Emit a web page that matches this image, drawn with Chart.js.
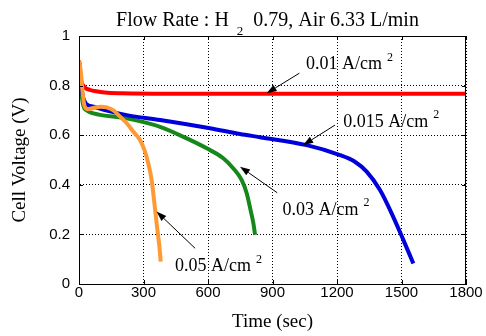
<!DOCTYPE html>
<html>
<head>
<meta charset="utf-8">
<script src="https://cdn.jsdelivr.net/npm/chart.js@4"></script>
<style>
  html, body { margin: 0; padding: 0; background: #fff; }
  #c { display: block; }
</style>
</head>
<body>
<canvas id="c" width="486" height="336"></canvas>
<script>
// --- datos ---
var xTicks = [0, 300, 600, 900, 1200, 1500, 1800];
var yTicks = [0, 0.2, 0.4, 0.6, 0.8, 1];

// 0.01 A/cm2
var tiempo001 = [0, 10, 20, 30, 50, 80, 120, 200, 400, 600, 900, 1200, 1500, 1800];
var volt001   = [0.90, 0.82, 0.80, 0.79, 0.783, 0.777, 0.772, 0.769, 0.767, 0.767, 0.767, 0.767, 0.767, 0.767];
// 0.015 A/cm2
var tiempo0015 = [0, 10, 20, 35, 67, 150, 222, 377, 609, 749, 842, 1059, 1214, 1280, 1338, 1400, 1462, 1509, 1555];
var volt0015   = [0.90, 0.80, 0.75, 0.725, 0.715, 0.695, 0.681, 0.661, 0.628, 0.605, 0.592, 0.56, 0.52, 0.495, 0.453, 0.379, 0.27, 0.177, 0.083];
// 0.03 A/cm2
var tiempo003 = [0, 10, 20, 35, 67, 222, 377, 516, 594, 671, 718, 757, 780, 798, 811, 819];
var volt003   = [0.90, 0.78, 0.72, 0.70, 0.688, 0.668, 0.634, 0.581, 0.547, 0.507, 0.466, 0.419, 0.366, 0.298, 0.245, 0.198];
// 0.05 A/cm2
var tiempo005 = [0, 8, 16, 25, 40, 67, 100, 129, 160, 191, 222, 253, 284, 307, 322, 338, 349, 361, 374, 380];
var volt005   = [0.90, 0.86, 0.78, 0.72, 0.705, 0.71, 0.715, 0.712, 0.70, 0.675, 0.648, 0.614, 0.581, 0.534, 0.487, 0.419, 0.339, 0.245, 0.150, 0.090];

var SERIF = '"Liberation Serif", "Times New Roman", serif';
var SANS = '"Liberation Sans", Arial, sans-serif';

function pares(ts, vs) {
  return ts.map(function (t, i) { return { x: t, y: vs[i] }; });
}

function serie(ts, vs, color) {
  return {
    data: pares(ts, vs),
    borderColor: color,
    borderWidth: 4,
    pointRadius: 0,
    fill: false,
    cubicInterpolationMode: 'monotone'
  };
}

/*
* Etiquetas con flecha (en unidades de los ejes)
*/
var etiquetas = [
  { texto: '0.01 A/cm', tx: 1056, ty: 0.885, desde: [1025, 0.850], hasta: [873, 0.769] },
  { texto: '0.015 A/cm', tx: 1229, ty: 0.654, desde: [1191, 0.641], hasta: [1043, 0.560] },
  { texto: '0.03 A/cm', tx: 947, ty: 0.298, desde: [922, 0.368], hasta: [749, 0.473] },
  { texto: '0.05 A/cm', tx: 447, ty: 0.070, desde: [540, 0.144], hasta: [361, 0.292] }
];

function flecha(ctx, x1, y1, x2, y2) {
  var ang = Math.atan2(y2 - y1, x2 - x1);
  var L = 10, W = 3.5;
  ctx.beginPath();
  ctx.moveTo(x1, y1);
  ctx.lineTo(x2 - L * Math.cos(ang), y2 - L * Math.sin(ang));
  ctx.stroke();
  ctx.beginPath();
  ctx.moveTo(x2, y2);
  ctx.lineTo(x2 - L * Math.cos(ang) + W * Math.sin(ang), y2 - L * Math.sin(ang) - W * Math.cos(ang));
  ctx.lineTo(x2 - L * Math.cos(ang) - W * Math.sin(ang), y2 - L * Math.sin(ang) + W * Math.cos(ang));
  ctx.closePath();
  ctx.fill();
}

var pluginAnotaciones = {
  id: 'anotaciones',
  afterDatasetsDraw: function (chart) {
    var ctx = chart.ctx, sx = chart.scales.x, sy = chart.scales.y;
    ctx.save();
    ctx.strokeStyle = '#000';
    ctx.fillStyle = '#000';
    ctx.lineWidth = 1;
    etiquetas.forEach(function (e) {
      flecha(ctx, sx.getPixelForValue(e.desde[0]), sy.getPixelForValue(e.desde[1]),
                  sx.getPixelForValue(e.hasta[0]), sy.getPixelForValue(e.hasta[1]));
      var x = sx.getPixelForValue(e.tx), y = sy.getPixelForValue(e.ty);
      ctx.font = '18px ' + SERIF;
      ctx.textBaseline = 'middle';
      ctx.textAlign = 'left';
      ctx.fillText(e.texto, x, y);
      var w = ctx.measureText(e.texto).width;
      ctx.font = '12px ' + SERIF;
      ctx.fillText('2', x + w + 5, y - 7);
    });
    ctx.restore();
  }
};

// Titulo con subindice + marco y marcas de eje hacia dentro
var pluginMarco = {
  id: 'marco',
  afterDraw: function (chart) {
    var ctx = chart.ctx, a = chart.chartArea, sx = chart.scales.x, sy = chart.scales.y;
    ctx.save();
    ctx.strokeStyle = '#000';
    ctx.lineWidth = 1;
    ctx.strokeRect(a.left + 0.5, a.top + 0.5, a.right - a.left - 1, a.bottom - a.top);
    ctx.beginPath();
    xTicks.forEach(function (t) {
      var px = Math.round(sx.getPixelForValue(t)) + 0.5;
      ctx.moveTo(px, a.bottom); ctx.lineTo(px, a.bottom - 4);
      ctx.moveTo(px, a.top); ctx.lineTo(px, a.top + 4);
    });
    yTicks.forEach(function (v) {
      var py = Math.round(sy.getPixelForValue(v)) + 0.5;
      ctx.moveTo(a.left, py); ctx.lineTo(a.left + 4, py);
      ctx.moveTo(a.right, py); ctx.lineTo(a.right - 4, py);
    });
    ctx.stroke();

    // titulo
    var p1 = 'Flow Rate : H', p2 = '2', p3 = '0.79, Air 6.33 L/min';
    ctx.fillStyle = '#000';
    ctx.textBaseline = 'alphabetic';
    ctx.textAlign = 'left';
    ctx.font = '20px ' + SERIF;
    var w1 = ctx.measureText(p1).width, w3 = ctx.measureText(p3).width;
    ctx.font = '13px ' + SERIF;
    var w2 = ctx.measureText(p2).width;
    var total = w1 + 8 + w2 + 10 + w3;
    var x0 = 267.5 - total / 2;
    ctx.font = '20px ' + SERIF;
    ctx.fillText(p1, x0, 26);
    ctx.fillText(p3, x0 + w1 + 8 + w2 + 10, 26);
    ctx.font = '13px ' + SERIF;
    ctx.fillText(p2, x0 + w1 + 8, 35);
    ctx.restore();
  }
};

new Chart(document.getElementById('c'), {
  type: 'line',
  data: {
    datasets: [
      serie(tiempo005, volt005, '#ff9933'),
      serie(tiempo001, volt001, '#ff0000'),
      serie(tiempo0015, volt0015, '#0000dd'),
      serie(tiempo003, volt003, '#16881a')
    ]
  },
  options: {
    responsive: false,
    animation: false,
    devicePixelRatio: 1,
    layout: { padding: { top: 36, right: 20, left: 0, bottom: 0 } },
    plugins: { legend: { display: false }, tooltip: { enabled: false }, title: { display: false } },
    scales: {
      x: {
        type: 'linear',
        min: 0, max: 1800,
        afterBuildTicks: function (s) { s.ticks = xTicks.map(function (v) { return { value: v }; }); },
        afterFit: function (s) { s.height = 52; },
        ticks: {
          color: '#000',
          font: { family: SANS, size: 15 },
          padding: 0,
          maxRotation: 0,
          callback: function (v) { return String(v); }
        },
        grid: { color: '#000', drawTicks: false, lineWidth: 1 },
        border: { color: '#000', width: 1, dash: [1, 2] },
        title: { display: true, text: 'Time (sec)', color: '#000', font: { family: SERIF, size: 19 }, padding: { top: 0, bottom: 3 } }
      },
      y: {
        min: 0, max: 1,
        afterBuildTicks: function (s) { s.ticks = yTicks.map(function (v) { return { value: v }; }); },
        afterFit: function (s) { s.width = 79; },
        ticks: {
          color: '#000',
          font: { family: SANS, size: 15 },
          padding: 9,
          callback: function (v) { return String(v); }
        },
        grid: { color: '#000', drawTicks: false, lineWidth: 1 },
        border: { color: '#000', width: 1, dash: [1, 2] },
        title: { display: true, text: 'Cell Voltage (V)', color: '#000', font: { family: SERIF, size: 19 }, padding: { top: 9, bottom: 0 } }
      }
    }
  },
  plugins: [pluginAnotaciones, pluginMarco]
});
</script>
</body>
</html>
